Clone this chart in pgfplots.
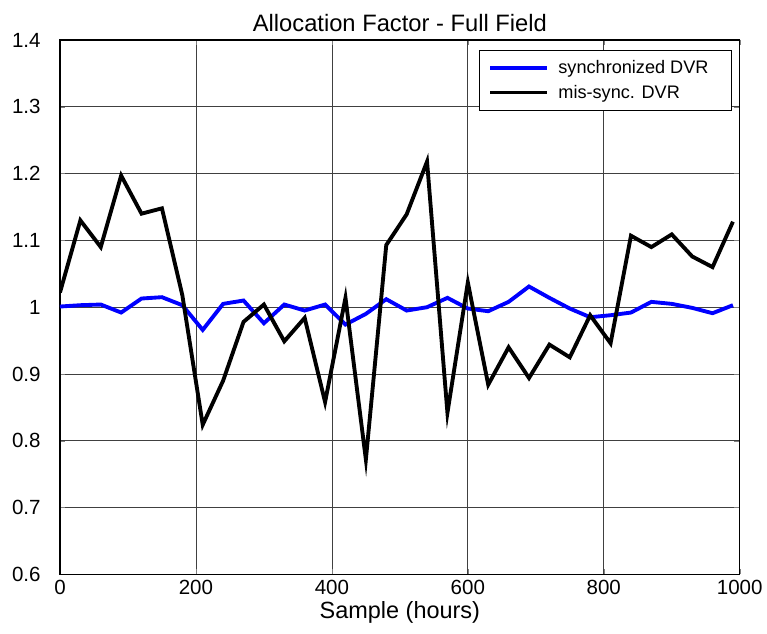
\documentclass[border=0pt]{standalone}
\usepackage{pgfplots}
\pgfplotsset{compat=1.18}
\usepackage{fontspec}
\setmainfont{Liberation Sans}
\begin{document}
\begin{tikzpicture}
\begin{axis}[
  width=510pt, height=401pt, scale only axis,
  xmin=0, xmax=1000, ymin=0.6, ymax=1.4,
  xtick={0,200,...,1000}, ytick={0.6,0.7,...,1.4},
  yticklabel style={/pgf/number format/fixed,/pgf/number format/precision=1, xshift=-11pt},
  xticklabel style={/pgf/number format/1000 sep={}, yshift=-1pt},
  /pgf/number format/assume math mode=true,
  tick label style={font=\fontsize{15.4}{17}\selectfont},
  label style={font=\fontsize{17.6}{19}\selectfont},
  title style={font=\fontsize{17.8}{19}\selectfont, yshift=-3pt},
  title={Allocation Factor - Full Field},
  xlabel={Sample (hours)},
  xlabel style={yshift=2pt},
  grid=major, major grid style={black!75, line width=0.5pt},
  tick align=inside, tick pos=both, major tick length=4pt,
  axis line style={line width=0.8pt},
  legend style={at={(0.988,0.981)}, anchor=north east, draw=black, line width=0.6pt,
    font=\fontsize{13.6}{15}\selectfont, inner xsep=7pt, inner ysep=5.5pt, row sep=3pt},
  legend cell align=left,
  legend image code/.code={\draw[#1] (0cm,0cm) -- (1.5cm,0cm);},
]
\addplot[blue, line width=2.9pt] coordinates {
(0,1.001) (30,1.003) (60,1.004) (90,0.992) (120,1.013) (150,1.015) (180,1.003)
(210,0.966) (240,1.005) (270,1.010) (300,0.976) (330,1.004) (360,0.995) (390,1.004)
(420,0.974) (450,0.990) (480,1.012) (510,0.995) (540,1.000) (570,1.014) (600,0.998)
(630,0.994) (660,1.008) (690,1.031) (720,1.014) (750,0.998) (780,0.985) (810,0.988)
(840,0.992) (870,1.008) (900,1.005) (930,0.999) (960,0.991) (990,1.003)};
\addlegendentry{\hspace*{5pt}synchronized DVR\hspace*{8pt}}
\addplot[black, line width=2.9pt] coordinates {
(0,1.022) (30,1.130) (60,1.090) (90,1.197) (120,1.140) (150,1.148) (180,1.018)
(210,0.824) (240,0.890) (270,0.978) (300,1.004) (330,0.949) (360,0.984) (390,0.858)
(420,1.014) (450,0.772) (480,1.093) (510,1.139) (540,1.218) (570,0.842) (600,1.037)
(630,0.884) (660,0.940) (690,0.894) (720,0.944) (750,0.925) (780,0.988) (810,0.946)
(840,1.107) (870,1.090) (900,1.109) (930,1.076) (960,1.060) (990,1.128)};
\addlegendentry{\hspace*{5pt}mis-sync. DVR}
\end{axis}
\path (current axis.south west) ++(-45pt,-44pt) coordinate (bl);
\path (current axis.north east) ++(20pt,30pt) coordinate (tr);
\end{tikzpicture}
\end{document}
